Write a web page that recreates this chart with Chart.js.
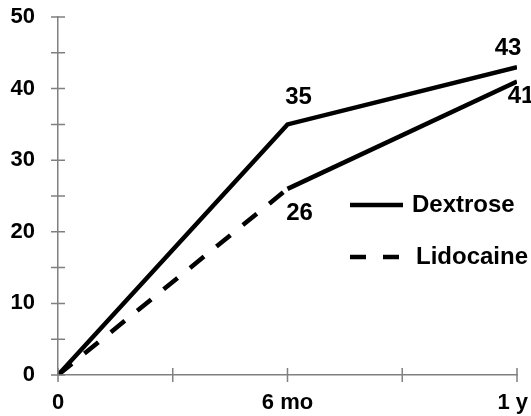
<!DOCTYPE html>
<html>
<head>
<meta charset="utf-8">
<script src="https://cdn.jsdelivr.net/npm/chart.js@4/dist/chart.umd.min.js"></script>
<style>
    html, body { margin: 0; padding: 0; background: #fff; }
    canvas { display: block; }
</style>
</head>
<body>
<canvas id="outcomeChart" width="531" height="416"></canvas>
<script>
// Data
const months = [0, 6, 12];
const dextrose = [0, 35, 43];
const lidocaine = [0, 26, 41];
const seriesNames = ['Dextrose', 'Lidocaine'];
const yTickLabels = [0, 10, 20, 30, 40, 50];
const xTickLabels = { 0: '0', 6: '6 mo', 12: '1 y' };

const fontFamily = '"Liberation Sans", Arial, sans-serif';
const labelFont = 'bold 24px ' + fontFamily;
const tickFont = 'bold 22px ' + fontFamily;
const axisGray = '#808080';

function toPoints(values) {
    return months.map((m, i) => ({ x: m, y: values[i] }));
}

// Tick marks crossing the axis lines, plus x labels kept inside the canvas
const crossTicks = {
    id: 'crossTicks',
    afterDraw(chart) {
        const ctx = chart.ctx;
        const x = chart.scales.x;
        const y = chart.scales.y;
        const len = 7;
        ctx.save();
        ctx.strokeStyle = axisGray;
        ctx.lineWidth = 1.5;
        ctx.beginPath();
        y.ticks.forEach(t => {
            const py = y.getPixelForValue(t.value);
            ctx.moveTo(x.left - len, py);
            ctx.lineTo(x.left + len, py);
        });
        x.ticks.forEach(t => {
            const px = x.getPixelForValue(t.value);
            ctx.moveTo(px, y.bottom - len);
            ctx.lineTo(px, y.bottom + len);
        });
        ctx.stroke();

        ctx.font = tickFont;
        ctx.fillStyle = '#000';
        ctx.textAlign = 'center';
        ctx.textBaseline = 'top';
        x.ticks.forEach(t => {
            const text = xTickLabels[t.value];
            if (text === undefined) return;
            const w = ctx.measureText(text).width;
            let px = x.getPixelForValue(t.value);
            px = Math.min(px, chart.width - 3 - w / 2);
            ctx.fillText(text, px, y.bottom + 17);
        });
        ctx.restore();
    }
};

// Value labels next to the points (offsets come from each dataset)
const pointLabels = {
    id: 'pointLabels',
    afterDatasetsDraw(chart) {
        const ctx = chart.ctx;
        ctx.save();
        ctx.font = labelFont;
        ctx.fillStyle = '#000';
        ctx.textAlign = 'center';
        ctx.textBaseline = 'middle';
        chart.data.datasets.forEach((ds, di) => {
            const meta = chart.getDatasetMeta(di);
            meta.data.forEach((pt, i) => {
                const off = ds.labelOffsets && ds.labelOffsets[i];
                if (!off) return;
                ctx.fillText(ds.data[i].y, pt.x + off[0], pt.y + off[1]);
            });
        });
        ctx.restore();
    }
};

// Legend inside the plot
const insideLegend = {
    id: 'insideLegend',
    afterDraw(chart, args, opts) {
        const ctx = chart.ctx;
        ctx.save();
        ctx.font = labelFont;
        ctx.fillStyle = '#000';
        ctx.textAlign = 'left';
        ctx.textBaseline = 'middle';
        chart.data.datasets.forEach((ds, i) => {
            const y = opts.top + i * opts.rowGap;
            ctx.strokeStyle = '#000';
            ctx.lineWidth = 4.5;
            ctx.setLineDash(ds.legendDash || []);
            ctx.beginPath();
            ctx.moveTo(opts.left, y);
            ctx.lineTo(opts.left + opts.lineLen, y);
            ctx.stroke();
            ctx.setLineDash([]);
            ctx.fillText(ds.label, opts.left + opts.lineLen + (i === 0 ? 9 : 13), y);
        });
        ctx.restore();
    }
};

new Chart(document.getElementById('outcomeChart'), {
    type: 'line',
    data: {
        datasets: [
            {
                label: seriesNames[0],
                data: toPoints(dextrose),
                borderColor: '#000',
                borderWidth: 4.5,
                pointRadius: 0,
                tension: 0,
                labelOffsets: [null, [11, -27], [-9, -19]]
            },
            {
                label: seriesNames[1],
                data: toPoints(lidocaine),
                borderColor: '#000',
                borderWidth: 4.5,
                pointRadius: 0,
                tension: 0,
                labelOffsets: [null, [12, 25], [4, 15]],
                legendDash: [16, 17],
                segment: {
                    borderDash: ctx => ctx.p0DataIndex === 0 ? [18, 16] : undefined
                }
            }
        ]
    },
    options: {
        responsive: false,
        animation: false,
        layout: { padding: { top: 17, right: 14, left: 0, bottom: 0 } },
        plugins: {
            legend: { display: false },
            tooltip: { enabled: false },
            insideLegend: { left: 350, top: 205, rowGap: 52, lineLen: 53 }
        },
        scales: {
            x: {
                type: 'linear',
                min: 0,
                max: 12,
                grid: { display: false, drawTicks: false },
                border: { display: true, color: axisGray, width: 1.5 },
                ticks: {
                    stepSize: 3,
                    display: false,
                    autoSkip: false
                },
                afterFit: s => {
                    s.height = 41;
                    s.paddingLeft = 0;
                    s.paddingRight = 0;
                }
            },
            y: {
                min: 0,
                max: 50,
                grid: { display: false, drawTicks: false },
                border: { display: true, color: axisGray, width: 1.5 },
                ticks: {
                    stepSize: 5,
                    padding: 23,
                    color: '#000',
                    font: { family: fontFamily, size: 22, weight: 'bold' },
                    callback: v => yTickLabels.includes(v) ? String(v) : ''
                },
                afterFit: s => {
                    s.width = 58;
                    s.paddingTop = 0;
                    s.paddingBottom = 0;
                }
            }
        }
    },
    plugins: [crossTicks, pointLabels, insideLegend]
});
</script>
</body>
</html>
